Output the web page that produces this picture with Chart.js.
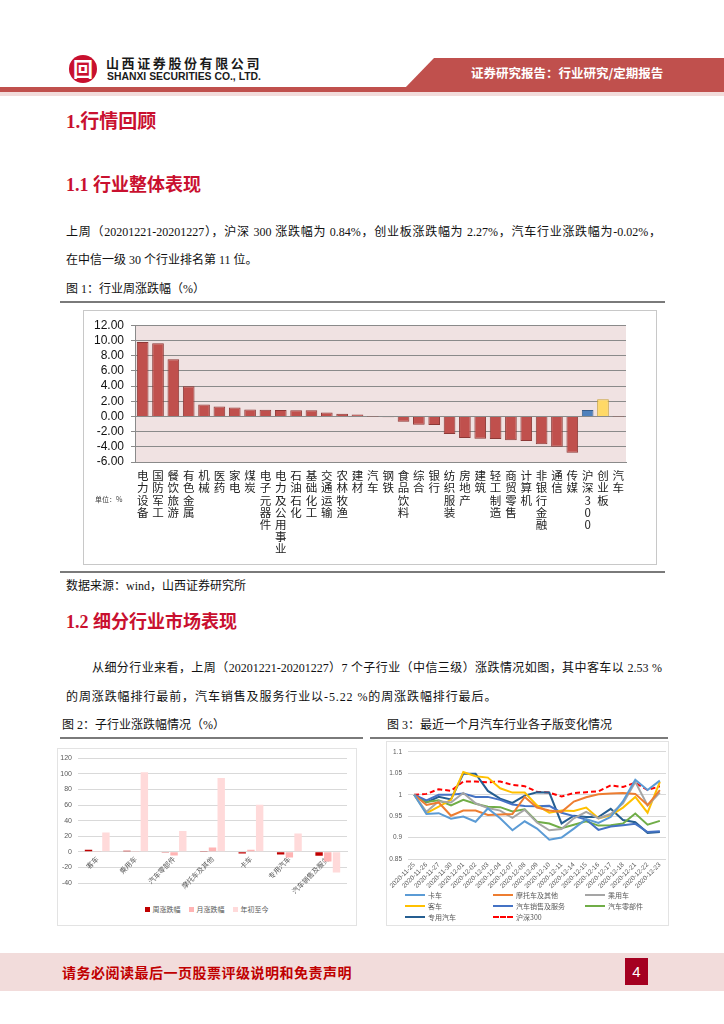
<!DOCTYPE html>
<html lang="zh-CN">
<head>
<meta charset="utf-8">
<title>行情回顾</title>
<script src="https://cdn.jsdelivr.net/npm/chart.js@4.4.1/dist/chart.umd.min.js"></script>
<style>
  html, body { margin: 0; padding: 0; background: #fff; }
  body { width: 724px; height: 1024px; position: relative; overflow: hidden;
         font-family: "Liberation Serif", "Noto Sans CJK SC", serif; color: #111; }
  .abs { position: absolute; white-space: nowrap; }
  .h1 { font-size: 19px; font-weight: 700; color: #c9102f; line-height: 24px; }
  .h2 { font-size: 18px; font-weight: 700; color: #c9102f; line-height: 22px; }
  .p { font-size: 12px; line-height: 16px; }
  .just { text-align: justify; text-align-last: justify; }
  .rule { position: absolute; height: 2px; background: #7a7a7a; }
  .box { position: absolute; box-sizing: border-box; border: 1px solid #c8c8c8; }
  canvas { position: absolute; }
  .legend { position: absolute; font-family: "Noto Sans CJK SC", sans-serif; font-size: 7px; color: #595959; }
</style>
</head>
<body>

<!-- header -->
<div class="abs" style="left:69px;top:55px;width:28px;height:28px;border-radius:50%;background:#c8102e;color:#fff;font:700 20px/28px 'Noto Sans CJK SC';text-align:center;">回</div>
<div class="abs" style="left:106px;top:55px;font:700 13px/16px 'Noto Sans CJK SC';letter-spacing:2.6px;color:#1a1a1a;">山西证券股份有限公司</div>
<div class="abs" style="left:107px;top:71px;font:700 10.4px/12px 'Liberation Sans';color:#1a1a1a;">SHANXI SECURITIES CO., LTD.</div>
<div class="abs" style="left:404px;top:58px;width:320px;height:31px;background:#c0504d;clip-path:polygon(30px 0,100% 0,100% 100%,0 100%);"></div>
<div class="abs" style="left:471px;top:64px;font:700 12.5px/18px 'Noto Sans CJK SC';color:#fff;">证券研究报告：行业研究/定期报告</div>
<div class="abs" style="left:0;top:87px;width:724px;height:5px;background:#c0504d;"></div>
<div class="abs" style="left:0;top:92px;width:724px;height:4px;background:#f2dcdb;"></div>

<!-- section 1 -->
<div class="abs h1" style="left:66px;top:110px;">1.行情回顾</div>
<div class="abs h2" style="left:66px;top:174px;">1.1 行业整体表现</div>
<div class="abs p just" style="left:66px;top:224px;width:595px;">上周（20201221-20201227），沪深 300 涨跌幅为 0.84%，创业板涨跌幅为 2.27%，汽车行业涨跌幅为-0.02%，</div>
<div class="abs p" style="left:66px;top:252px;">在中信一级 30 个行业排名第 11 位。</div>
<div class="abs p" style="left:66px;top:281px;">图 1：行业周涨跌幅（%）</div>
<div class="rule" style="left:60px;top:301px;width:605px;"></div>

<div class="box" style="left:83px;top:310px;width:574px;height:255px;"></div>
<canvas id="c1" width="572" height="253" style="left:84px;top:311px;"></canvas>
<div class="abs" style="left:95px;top:495px;font:7px/9px 'Noto Sans CJK SC';color:#404040;">单位：%</div>

<div class="rule" style="left:60px;top:571px;width:605px;"></div>
<div class="abs p" style="left:66px;top:578px;">数据来源：wind，山西证券研究所</div>

<!-- section 1.2 -->
<div class="abs h2" style="left:66px;top:611px;">1.2 细分行业市场表现</div>
<div class="abs p just" style="left:92px;top:660px;width:570px;">从细分行业来看，上周（20201221-20201227）7 个子行业（中信三级）涨跌情况如图，其中客车以 2.53 %</div>
<div class="abs p" style="left:66px;top:689px;letter-spacing:0.9px;">的周涨跌幅排行最前，汽车销售及服务行业以-5.22 %的周涨跌幅排行最后。</div>

<div class="abs p" style="left:62px;top:717px;">图 2：子行业涨跌幅情况（%）</div>
<div class="abs p" style="left:387px;top:717px;">图 3：最近一个月汽车行业各子版变化情况</div>
<div class="rule" style="left:60px;top:737px;width:303px;"></div>
<div class="rule" style="left:370px;top:737px;width:298px;"></div>

<div class="box" style="left:57px;top:748px;width:300px;height:178px;border-color:#e3e3e3;"></div>
<canvas id="c2" width="299" height="152" style="left:57px;top:748px;"></canvas>
<div id="lg2" class="legend" style="left:57px;top:904px;width:299px;text-align:center;"></div>

<div class="box" style="left:386px;top:741px;width:283px;height:185px;border-color:#e3e3e3;"></div>
<canvas id="c3" width="281" height="150" style="left:387px;top:742px;"></canvas>
<div id="lg3" class="legend" style="left:405px;top:889px;display:grid;grid-template-columns:88px 92px 80px;grid-auto-rows:11px;"></div>

<!-- footer -->
<div class="abs" style="left:0;top:953px;width:724px;height:38px;background:#f2dcdb;"></div>
<div class="abs" style="left:62px;top:962px;font:700 14px/20px 'Noto Sans CJK SC';letter-spacing:0.5px;color:#c00000;">请务必阅读最后一页股票评级说明和免责声明</div>
<div class="abs" style="left:625px;top:958px;width:23px;height:27px;background:#a50021;color:#fff;font:15px/27px 'Liberation Sans';text-align:center;">4</div>

<script>
// 图1：中信一级行业周涨跌幅
const industryLabels = ['电力设备', '国防军工', '餐饮旅游', '有色金属', '机械', '医药', '家电', '煤炭',
    '电子元器件', '电力及公用事业', '石油石化', '基础化工', '交通运输', '农林牧渔', '建材', '汽车',
    '钢铁', '食品饮料', '综合', '银行', '纺织服装', '房地产', '建筑', '轻工制造', '商贸零售',
    '计算机', '非银行金融', '通信', '传媒', '沪深300', '创业板', '汽车'];
const industryWeekly = [9.78, 9.62, 7.52, 3.96, 1.57, 1.30, 1.17, 0.91, 0.87, 0.83, 0.82, 0.80,
    0.50, 0.35, 0.25, -0.02, -0.12, -0.70, -1.10, -1.12, -2.30, -2.85, -2.95, -2.96, -3.15,
    -3.25, -3.65, -4.00, -4.78, 0.84, 2.27, -0.02];
const industryTicks = [-6, -4, -2, 0, 2, 4, 6, 8, 10, 12];

// 图2：子行业涨跌幅
const subLabels = ['客车', '乘用车', '汽车零部件', '摩托车及其他', '卡车', '专用汽车', '汽车销售及服务'];
const subWeekly = [2.53, 1.3, -0.2, 0.3, -2.1, -3.4, -5.22];
const subMonthly = [0.3, 0.9, -4.6, 5.5, 2.5, -7.2, -12.3];
const subYtd = [24.7, 102.0, 26.8, 94.5, 60.4, 23.4, -26.4];
const subTicks = [-40, -20, 0, 20, 40, 60, 80, 100, 120];

// 图3：最近一个月各子版走势
const dates = ['2020-11-25', '2020-11-26', '2020-11-27', '2020-11-30', '2020-12-01', '2020-12-02',
    '2020-12-03', '2020-12-04', '2020-12-07', '2020-12-08', '2020-12-09', '2020-12-10', '2020-12-11',
    '2020-12-14', '2020-12-15', '2020-12-16', '2020-12-17', '2020-12-18', '2020-12-21', '2020-12-22',
    '2020-12-23'];
const truck = [1, 0.955, 0.957, 0.944, 0.949, 0.937, 0.968, 0.945, 0.917, 0.938, 0.921, 0.895, 0.900,
    0.921, 0.943, 0.934, 0.948, 0.985, 1.035, 1.011, 1.033];
const moto = [1, 0.976, 0.982, 0.951, 0.963, 0.963, 0.953, 0.954, 0.955, 0.995, 0.970, 0.963, 0.960,
    0.984, 0.994, 1.001, 1.003, 1.004, 1.002, 0.976, 1.011];
const passenger = [1, 0.960, 0.985, 0.982, 1.004, 0.980, 0.969, 0.963, 0.946, 0.965, 0.935, 0.917, 0.920,
    0.945, 0.960, 0.945, 0.955, 0.980, 1.030, 0.975, 1.005];
const bus = [1, 0.957, 0.972, 0.988, 1.053, 1.043, 1.040, 1.015, 1.005, 1.005, 0.975, 0.958, 0.963,
    0.962, 0.970, 0.945, 0.952, 0.970, 0.995, 0.958, 1.030];
const sales = [1, 0.987, 1.000, 1.000, 1.003, 0.995, 0.995, 0.988, 0.977, 0.974, 0.973, 0.974, 0.958,
    0.950, 0.942, 0.918, 0.926, 0.929, 0.932, 0.913, 0.915];
const parts = [1, 0.983, 0.987, 0.975, 0.988, 0.979, 0.972, 0.971, 0.961, 0.966, 0.937, 0.933, 0.922,
    0.930, 0.938, 0.928, 0.929, 0.933, 0.956, 0.930, 0.939];
const special = [1, 0.982, 0.995, 0.989, 1.049, 1.049, 1.009, 0.991, 0.981, 0.998, 1.006, 1.005, 0.933,
    0.951, 0.948, 0.948, 0.967, 0.941, 0.936, 0.911, 0.913];
const hs300 = [1, 1.002, 1.013, 1.009, 1.031, 1.031, 1.029, 1.031, 1.023, 1.020, 1.007, 1.005, 0.996,
    1.004, 1.006, 1.008, 1.022, 1.018, 1.028, 1.011, 1.020];
const lineTicks = [0.85, 0.9, 0.95, 1, 1.05, 1.1];

Chart.defaults.animation = false;
Chart.defaults.font.family = "'Liberation Sans', 'Noto Sans CJK SC', sans-serif";

// fills the plot area (Excel style pink background)
const plotBg = {
    id: 'plotBg',
    beforeDraw(chart, args, opts) {
        if (!opts.color) return;
        const { ctx, chartArea: a } = chart;
        ctx.save();
        ctx.fillStyle = opts.color;
        ctx.fillRect(a.left, a.top, a.right - a.left, a.bottom - a.top);
        ctx.restore();
    }
};

function barColor(label) {
    if (label === '沪深300') return ['#4f81bd', '#385d8a'];
    if (label === '创业板') return ['#ffd966', '#c9a33a'];
    return ['#c0504d', '#8c3836'];
}

new Chart(document.getElementById('c1'), {
    type: 'bar',
    plugins: [plotBg],
    data: {
        labels: industryLabels.map(s => Array.from(s)),
        datasets: [{
            data: industryWeekly,
            backgroundColor: industryLabels.map(l => barColor(l)[0]),
            borderColor: industryLabels.map(l => barColor(l)[1]),
            borderWidth: 1,
            barPercentage: 0.76,
            categoryPercentage: 1
        }]
    },
    options: {
        responsive: false,
        layout: { padding: { top: 13, right: 30, left: 0, bottom: 0 } },
        plugins: { legend: { display: false }, tooltip: { enabled: false }, plotBg: { color: '#f0e2e2' } },
        scales: {
            x: {
                afterFit: s => { s.height = 102; },
                grid: { display: false, drawTicks: false },
                border: { color: '#8a8a8a' },
                ticks: {
                    autoSkip: false, maxRotation: 0, minRotation: 0, padding: 8, color: '#222',
                    font: { family: "'Noto Sans CJK SC'", size: 11.5, lineHeight: 1.05 }
                }
            },
            y: {
                min: industryTicks[0],
                max: industryTicks[industryTicks.length - 1],
                afterFit: s => { s.width = 51; },
                grid: { color: '#8a8a8a', tickLength: 4 },
                border: { color: '#8a8a8a' },
                ticks: { autoSkip: false, stepSize: industryTicks[1] - industryTicks[0], padding: 7, color: '#111',
                    font: { size: 12 }, callback: v => v.toFixed(2) }
            }
        }
    }
});

const subSeries = [
    { label: '周涨跌幅', data: subWeekly, color: '#c00000' },
    { label: '月涨跌幅', data: subMonthly, color: '#ffb4b4' },
    { label: '年初至今', data: subYtd, color: '#ffdada' }
];

new Chart(document.getElementById('c2'), {
    type: 'bar',
    data: {
        labels: subLabels,
        datasets: subSeries.map(s => ({
            label: s.label, data: s.data, backgroundColor: s.color,
            barPercentage: 0.85, categoryPercentage: 0.68
        }))
    },
    options: {
        responsive: false,
        layout: { padding: { top: 10, right: 9, left: 0, bottom: 17 } },
        plugins: { legend: { display: false }, tooltip: { enabled: false } },
        scales: {
            x: {
                position: { y: 0 },
                grid: { display: false, drawTicks: false },
                border: { color: '#d9d9d9' },
                ticks: { autoSkip: false, minRotation: 45, maxRotation: 45, padding: 3, color: '#595959',
                    font: { family: "'Noto Sans CJK SC'", size: 7 } }
            },
            y: {
                min: subTicks[0],
                max: subTicks[subTicks.length - 1],
                afterFit: s => { s.width = 21; },
                grid: { color: '#d9d9d9', drawTicks: false },
                border: { display: false },
                ticks: { autoSkip: false, stepSize: subTicks[1] - subTicks[0], padding: 6, color: '#595959', font: { size: 7 } }
            }
        }
    }
});

document.getElementById('lg2').innerHTML = subSeries.map(s =>
    '<span style="display:inline-block;margin:0 4px;"><span style="display:inline-block;width:5px;height:5px;background:' +
    s.color + ';margin-right:3px;vertical-align:0;"></span>' + s.label + '</span>').join('');

const lineSeries = [
    { label: '卡车', data: truck, color: '#5b9bd5' },
    { label: '摩托车及其他', data: moto, color: '#ed7d31' },
    { label: '乘用车', data: passenger, color: '#a5a5a5' },
    { label: '客车', data: bus, color: '#ffc000' },
    { label: '汽车销售及服务', data: sales, color: '#4472c4' },
    { label: '汽车零部件', data: parts, color: '#70ad47' },
    { label: '专用汽车', data: special, color: '#255e91' },
    { label: '沪深300', data: hs300, color: '#ff0000', dash: true }
];

new Chart(document.getElementById('c3'), {
    type: 'line',
    data: {
        labels: dates,
        datasets: lineSeries.map(s => ({
            label: s.label, data: s.data, borderColor: s.color, borderWidth: 2,
            borderDash: s.dash ? [5, 3] : [], pointRadius: 0, tension: 0, fill: false
        }))
    },
    options: {
        responsive: false,
        layout: { padding: { top: 6, right: 2, left: 0, bottom: 0 } },
        plugins: { legend: { display: false }, tooltip: { enabled: false } },
        scales: {
            x: {
                offset: true,
                afterFit: s => { s.height = 33; },
                grid: { display: false, drawTicks: false },
                border: { display: false },
                ticks: { autoSkip: false, minRotation: 45, maxRotation: 45, padding: 2, color: '#595959',
                    font: { size: 6.5 } }
            },
            y: {
                min: lineTicks[0],
                max: lineTicks[lineTicks.length - 1],
                afterFit: s => { s.width = 21; },
                grid: { color: '#d9d9d9', drawTicks: false },
                border: { display: false },
                ticks: { autoSkip: false, stepSize: 0.05, padding: 6, color: '#595959', font: { size: 6.5 },
                    callback: v => String(+v.toFixed(2)) }
            }
        }
    }
});

document.getElementById('lg3').innerHTML = lineSeries.map(s =>
    '<div style="display:flex;align-items:center;"><span style="display:inline-block;width:20px;margin-right:3px;' +
    (s.dash ? 'border-top:2px dashed ' + s.color + ';' : 'height:2px;background:' + s.color + ';') +
    '"></span>' + s.label + '</div>').join('');
</script>
</body>
</html>
